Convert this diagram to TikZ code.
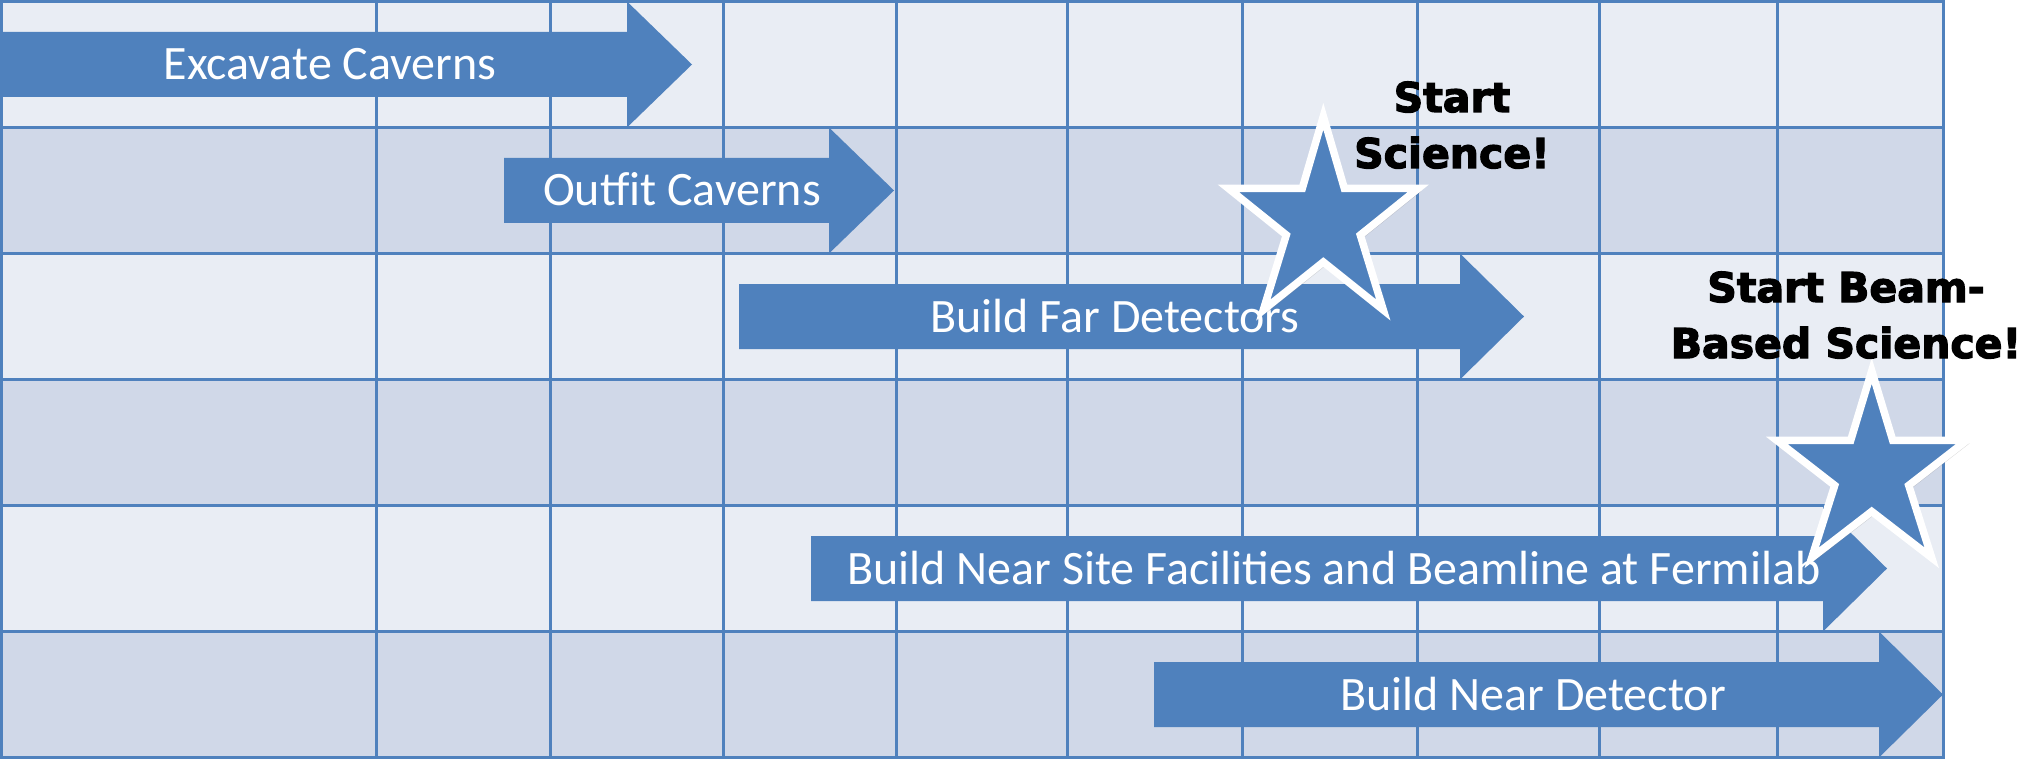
\documentclass[tikz,border=0pt]{standalone}
\usepackage{fontspec}
\setmainfont{Carlito}
\newfontfamily\heavyfont{DejaVu Sans}[BoldFeatures={FakeBold=3}]
\usetikzlibrary{shadows}
\definecolor{barblue}{HTML}{4F81BD}
\definecolor{rowlight}{HTML}{E9EDF4}
\definecolor{rowdark}{HTML}{D0D8E8}
\tikzset{
  grid line/.style={draw=barblue, line width=3pt},
  bar/.style={fill=barblue},
  bartext/.style={anchor=base, text=white, inner sep=0pt, font=\fontsize{48}{52}\selectfont},
  callout/.style={anchor=base, align=center, inner sep=0pt,
    font=\heavyfont\bfseries\fontsize{41}{56}\selectfont},
  milestone star/.pic={
    \draw [fill=barblue, draw=white, line width=7.5pt, miter limit=10,
           drop shadow={shadow xshift=3pt, shadow yshift=-3pt, opacity=0.3}]
      (0,-104.2) -- (21,-32.2) -- (95,-32.2) -- (37,14.5) -- (60,89.5) -- (0,41.5)
      -- (-60,89.5) -- (-37,14.5) -- (-95,-32.2) -- (-21,-32.2) -- cycle;
  }
}
\begin{document}
\begin{tikzpicture}[x=1pt, y=-1pt]
    \useasboundingbox (0,0) rectangle (2025,759);
    % alternating row bands
    \fill [rowlight] (1.5,1.5) rectangle (1943.5,127.5);
    \fill [rowdark] (1.5,127.5) rectangle (1943.5,253.5);
    \fill [rowlight] (1.5,253.5) rectangle (1943.5,379.5);
    \fill [rowdark] (1.5,379.5) rectangle (1943.5,505.5);
    \fill [rowlight] (1.5,505.5) rectangle (1943.5,631.5);
    \fill [rowdark] (1.5,631.5) rectangle (1943.5,757.5);
    % grid
    \foreach \y in {127.5,253.5,379.5,505.5,631.5}
      \draw [grid line] (1.5,\y) -- (1943.5,\y);
    \foreach \x in {376,550,723,896,1067,1242,1417,1599,1777}
      \draw [grid line] (\x,1.5) -- (\x,757.5);
    \draw [grid line] (1.5,1.5) rectangle (1943.5,757.5);
    % task bars
    \fill [bar] (0,32) -- (627,32) -- (627,1.5) -- (692,64.5) -- (627,127.5) -- (627,97) -- (0,97) -- cycle;
    \fill [bar] (504,158) -- (829,158) -- (829,127.5) -- (894,190.5) -- (829,253.5) -- (829,223) -- (504,223) -- cycle;
    \fill [bar] (739,284) -- (1460,284) -- (1460,253.5) -- (1524,316.5) -- (1460,379.5) -- (1460,349) -- (739,349) -- cycle;
    \fill [bar] (811,536) -- (1823,536) -- (1823,505.5) -- (1887,568.5) -- (1823,631.5) -- (1823,601) -- (811,601) -- cycle;
    \fill [bar] (1154,662) -- (1879,662) -- (1879,631.5) -- (1943,694.5) -- (1879,757.5) -- (1879,727) -- (1154,727) -- cycle;
    \path node (excavate) at (330,80) [bartext] {Excavate Caverns}
          node (outfit) at (682,206) [bartext] {Outfit Caverns}
          node (fardet) at (1115,332) [bartext] {Build Far Detectors}
          node (nearsite) at (1334,584) [bartext] {Build Near Site Facilities and Beamline at Fermilab}
          node (neardet) at (1533,710) [bartext] {Build Near Detector};
    % milestones
    \coordinate (scistar) at (1323.3,220.5);
    \coordinate (beamstar) at (1871.7,471.4);
    \pic at (scistar) {milestone star};
    \pic [yscale=0.965] at (beamstar) {milestone star};
    \path node (scitext) at (1452,168) [callout] {Start\\Science!}
          node (beamtext) at (1846,358) [callout] {Start Beam-\\Based Science!};
\end{tikzpicture}
\end{document}
